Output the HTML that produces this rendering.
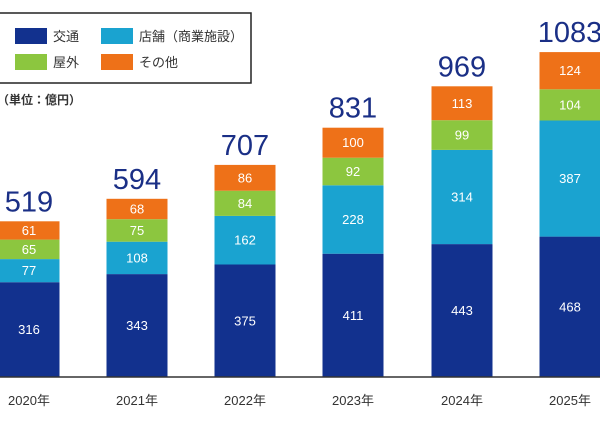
<!DOCTYPE html>
<html><head><meta charset="utf-8"><style>
body{margin:0;width:600px;height:420px;background:#fff;overflow:hidden;font-family:"Liberation Sans","Noto Sans CJK JP",sans-serif}
</style></head><body>
<svg width="600" height="420" xmlns="http://www.w3.org/2000/svg" font-family="Liberation Sans, Noto Sans CJK JP, sans-serif">
<rect x="-1" y="13" width="252" height="70" fill="#fff" stroke="#222" stroke-width="1.5"/>
<rect x="15" y="28" width="32" height="16" fill="#12318e"/>
<rect x="101" y="28" width="32" height="16" fill="#1aa3d0"/>
<rect x="15" y="54" width="32" height="16" fill="#8cc63f"/>
<rect x="101" y="54" width="32" height="16" fill="#ee7118"/>
<g font-size="13" fill="#333">
<text x="53" y="41">交通</text><text x="139" y="41">店舗（商業施設）</text>
<text x="53" y="67">屋外</text><text x="139" y="67">その他</text>
<text x="-3" y="104" font-size="12" font-weight="bold">（単位：億円）</text>
</g>
<g id="bars"></g>
<line x1="0" y1="377" x2="600" y2="377" stroke="#333" stroke-width="1.5"/>
</svg>
<script>
const d=[[29,519,[316,77,65,61],"2020年"],[137,594,[343,108,75,68],"2021年"],[245,707,[375,162,84,86],"2022年"],[353,831,[411,228,92,100],"2023年"],[462,969,[443,314,99,113],"2024年"],[570,1083,[468,387,104,124],"2025年"]];
const c=["#12318e","#1aa3d0","#8cc63f","#ee7118"];
let s="";
d.forEach(([cx,t,v,y])=>{let b=377;v.forEach((x,i)=>{const h=x*0.3;s+=`<rect x="${cx-30.5}" y="${b-h}" width="61" height="${h}" fill="${c[i]}"/>`;s+=`<text x="${cx}" y="${b-h/2+4.5}" text-anchor="middle" font-size="13" fill="#fff">${x}</text>`;b-=h;});
s+=`<text x="${cx}" y="${b-10}" text-anchor="middle" font-size="29" fill="#1a2f86">${t}</text>`;
s+=`<text x="${cx}" y="405" text-anchor="middle" font-size="13" fill="#333">${y}</text>`;});
document.getElementById("bars").innerHTML=s;
</script>
</body></html>
